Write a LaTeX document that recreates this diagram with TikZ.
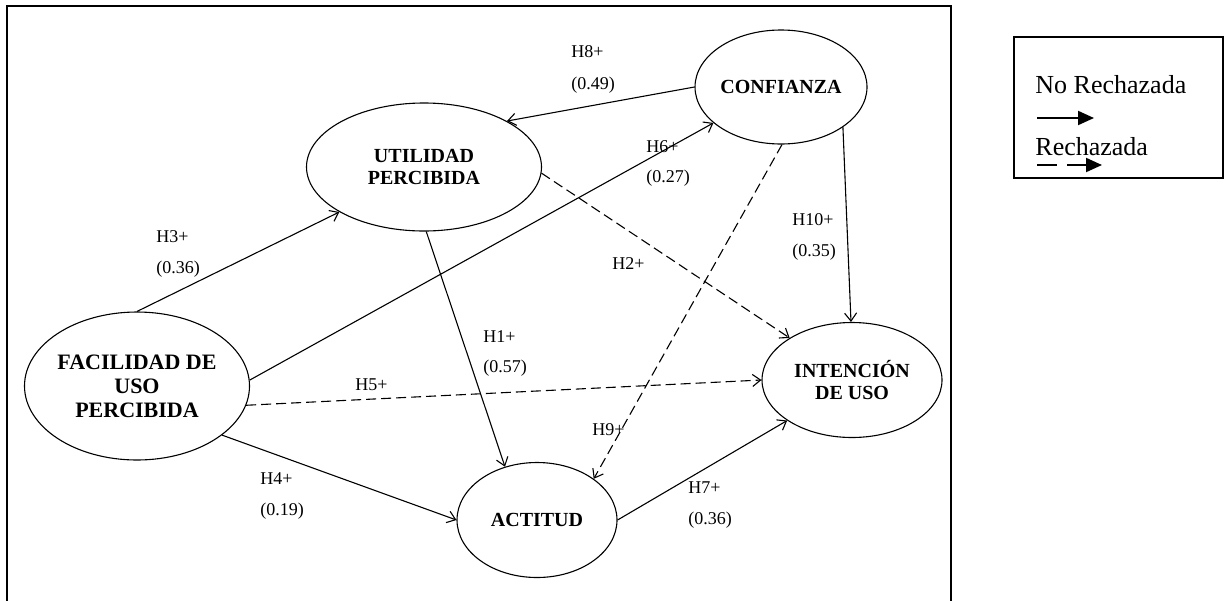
\documentclass[tikz,border=0pt]{standalone}
\usepackage{fontspec}
\setmainfont{Liberation Serif}
\usetikzlibrary{shapes.geometric,arrows.meta}
\begin{document}
\begin{tikzpicture}[x=0.5pt,y=-0.5pt,
  construct/.style={ellipse,draw,line width=0.55pt,inner sep=0pt,align=center,
    font=\fontsize{10}{10.8}\selectfont\bfseries},
  link/.style={line width=0.55pt,-{Straight Barb[length=4pt,width=6pt]}},
  rejected/.style={link,dash pattern=on 5pt off 2.5pt},
  lab/.style={anchor=west,inner sep=0pt,font=\fontsize{9}{10}\selectfont},
  legtext/.style={anchor=base west,inner sep=0pt,font=\fontsize{13}{14}\selectfont}]

\useasboundingbox (0,0) rectangle (1224,600);

% frame
\draw[line width=1pt] (7,606) -- (7,6) -- (951,6) -- (951,606);

% constructs
\node[construct,minimum width=86pt,minimum height=57pt] (conf) at (781,87) {CONFIANZA};
\node[construct,minimum width=117.5pt,minimum height=64pt] (util) at (424,167) {UTILIDAD\\PERCIBIDA};
\node[construct,minimum width=112.5pt,minimum height=74pt,font=\fontsize{11}{12}\selectfont\bfseries] (faci) at (137,386) {FACILIDAD DE\\USO\\PERCIBIDA};
\node[construct,minimum width=90pt,minimum height=57.5pt] (inte) at (852,380) {INTENCIÓN\\DE USO};
\node[construct,minimum width=80pt,minimum height=57.5pt] (acti) at (537,520) {ACTITUD};

% paths
\draw[link] (conf.180) -- (util.29);
\draw[link] (faci.3) -- (conf.208);
\draw[link] (faci.90) -- (util.208);
\draw[rejected] (util.-3) -- (inte.146);
\draw[link] (conf.-33) -- (inte.91);
\draw[rejected] (conf.271) -- (acti.36);
\draw[link] (util.272) -- (acti.121);
\draw[rejected] (faci.-10) -- (inte.180);
\draw[link] (faci.-30) -- (acti.180);
\draw[link] (acti.0) -- (inte.212);

% labels
\node[lab] (l8a) at (571,52) {H8+};
\node[lab] (l8b) at (571,85) {(0.49)};
\node[lab] (l6a) at (646,147) {H6+};
\node[lab] (l6b) at (646,178) {(0.27)};
\node[lab] (l3a) at (156,237) {H3+};
\node[lab] (l3b) at (156,269) {(0.36)};
\node[lab] (l10a) at (792,220) {H10+};
\node[lab] (l10b) at (792,252) {(0.35)};
\node[lab] (l2) at (612,264) {H2+};
\node[lab] (l1a) at (483,337) {H1+};
\node[lab] (l1b) at (483,368) {(0.57)};
\node[lab] (l5) at (355,385) {H5+};
\node[lab] (l9) at (592,430) {H9+};
\node[lab] (l4a) at (260,479) {H4+};
\node[lab] (l4b) at (260,511) {(0.19)};
\node[lab] (l7a) at (688,488) {H7+};
\node[lab] (l7b) at (688,520) {(0.36)};

% legend
\draw[line width=1pt] (1014,37) rectangle (1223,178);
\node[legtext] (lnr) at (1035,93) {No Rechazada};
\node[legtext] (lr) at (1035,155) {Rechazada};
\coordinate (s1) at (1037,118);
\coordinate (e1) at (1094,118);
\coordinate (s2) at (1037,165);
\coordinate (e2) at (1102,165);
\draw[line width=1pt,-{Triangle[length=8pt,width=7pt]}] (s1) -- (e1);
\draw[line width=1pt,dash pattern=on 10pt off 5pt,-{Triangle[length=8pt,width=7pt]}] (s2) -- (e2);
\end{tikzpicture}
\end{document}
